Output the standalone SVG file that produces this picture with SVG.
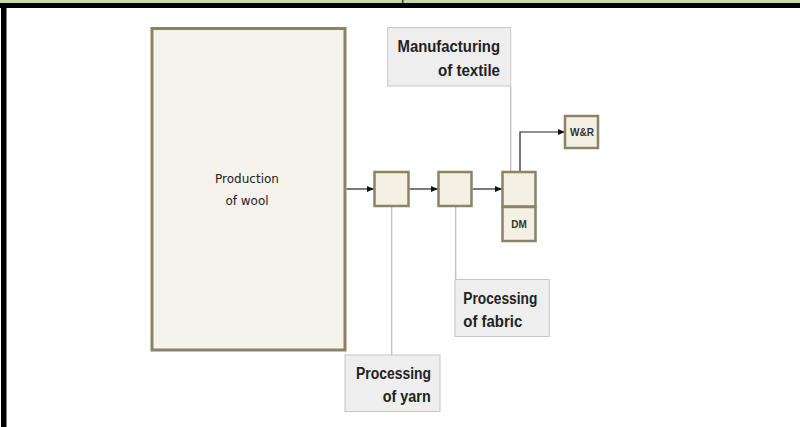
<svg xmlns="http://www.w3.org/2000/svg" width="800" height="427" viewBox="0 0 800 427">
<defs>
<marker id="arr" markerWidth="8" markerHeight="8" refX="7" refY="4" orient="auto" markerUnits="userSpaceOnUse">
<path d="M0,1 L7,4 L0,7 Z" fill="#111"/>
</marker>
</defs>
<style>
.proc{fill:#f4f0e3;stroke:#8a8366;stroke-width:2.5}
.big{fill:#f5f3ec;stroke:#8a8366;stroke-width:3}
.lbl{fill:#eeeeee;stroke:#c6c6c6;stroke-width:1}
.t{font-family:"Liberation Sans",Arial,sans-serif;font-weight:bold;font-size:16px;fill:#222}
.s{font-family:"Liberation Sans",Arial,sans-serif;font-weight:bold;font-size:10px;fill:#333}
.w{font-family:"DejaVu Sans",sans-serif;font-size:12px;fill:#222}
.lead{stroke:#bdbdbd;stroke-width:1.3;fill:none}
.flow{stroke:#222;stroke-width:1.2;fill:none}
</style>
<rect x="0" y="0" width="800" height="427" fill="#ffffff"/>
<rect x="0" y="0" width="800" height="3.5" fill="#c6d9ab"/>
<rect x="0" y="3" width="800" height="5" fill="#000"/>
<rect x="402" y="0" width="1.5" height="3.5" fill="#333"/>
<rect x="1" y="3" width="5.5" height="424" fill="#000"/>

<g id="connectors">
<line class="lead" x1="391.7" y1="206" x2="391.7" y2="355"/>
<line class="lead" x1="455.7" y1="206" x2="455.7" y2="279.5"/>
<line class="lead" x1="510.7" y1="86" x2="510.7" y2="172"/>
<line class="flow" x1="346.5" y1="189" x2="374" y2="189" marker-end="url(#arr)"/>
<line class="flow" x1="409.5" y1="189" x2="438" y2="189" marker-end="url(#arr)"/>
<line class="flow" x1="472.5" y1="189" x2="502" y2="189" marker-end="url(#arr)"/>
<polyline class="flow" points="520,172 520,132 565,132" marker-end="url(#arr)"/>
</g>

<g id="production-of-wool">
<rect class="big" x="152" y="28.5" width="193" height="321.5"/>
<text class="w" x="247" y="183" text-anchor="middle">Production</text>
<text class="w" x="247" y="205" text-anchor="middle">of wool</text>
</g>

<g id="yarn-step">
<rect class="proc" x="374.5" y="172" width="34" height="34"/>
</g>
<g id="fabric-step">
<rect class="proc" x="438.5" y="172" width="33" height="34"/>
</g>
<g id="textile-step">
<rect class="proc" x="502.5" y="172" width="33" height="34.5"/>
</g>
<g id="dm">
<rect class="proc" x="502.5" y="207" width="33" height="34"/>
<text class="s" x="519" y="228" text-anchor="middle">DM</text>
</g>
<g id="wr">
<rect class="proc" x="565" y="116" width="33" height="32"/>
<text class="s" x="582" y="136" text-anchor="middle" font-size="9">W&amp;R</text>
</g>

<g id="label-manufacturing">
<rect class="lbl" x="387.7" y="27.5" width="123" height="58.5"/>
<text class="t" x="397.5" y="52" textLength="102.5" lengthAdjust="spacingAndGlyphs">Manufacturing</text>
<text class="t" x="438" y="75.5" textLength="62" lengthAdjust="spacingAndGlyphs">of textile</text>
</g>
<g id="label-fabric">
<rect class="lbl" x="455" y="279.5" width="94.3" height="57"/>
<text class="t" x="463.3" y="303.5" textLength="74" lengthAdjust="spacingAndGlyphs">Processing</text>
<text class="t" x="463.3" y="327" textLength="59" lengthAdjust="spacingAndGlyphs">of fabric</text>
</g>
<g id="label-yarn">
<rect class="lbl" x="345" y="355" width="95" height="56.5"/>
<text class="t" x="356" y="379" textLength="75" lengthAdjust="spacingAndGlyphs">Processing</text>
<text class="t" x="382.7" y="401.5" textLength="48" lengthAdjust="spacingAndGlyphs">of yarn</text>
</g>
</svg>
